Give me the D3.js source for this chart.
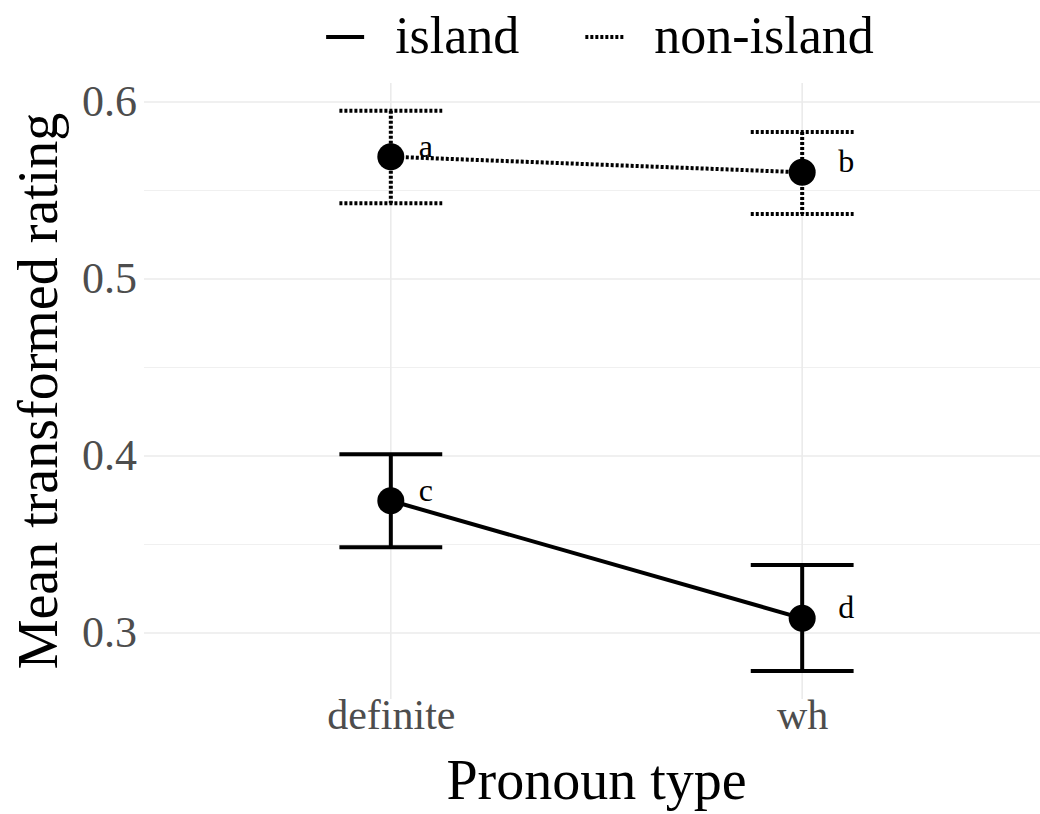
<!DOCTYPE html>
<html>
<head>
<meta charset="utf-8">
<script src="https://cdn.jsdelivr.net/npm/d3@7"></script>
<style>
  body { margin: 0; background: #fff; }
  svg { display: block; font-family: "Liberation Serif", "Times New Roman", serif; }
</style>
</head>
<body>
<svg id="chart"></svg>
<script>
// Data
const pronounTypes = ["definite", "wh"];
const conditions = ["island", "non-island"];
const islandMean = [0.3747, 0.3083];
const islandLower = [0.3485, 0.2785];
const islandUpper = [0.4010, 0.3384];
const nonIslandMean = [0.5691, 0.5603];
const nonIslandLower = [0.5428, 0.5367];
const nonIslandUpper = [0.5951, 0.5831];
const islandLabels = ["c", "d"];
const nonIslandLabels = ["a", "b"];
const yTicks = [0.3, 0.4, 0.5, 0.6];
const yMinorTicks = [0.35, 0.45, 0.55];

const width = 1040;
const height = 814;
const panel = { left: 144, right: 1049, top: 83, bottom: 699 };

const svg = d3.select("#chart")
    .attr("width", width)
    .attr("height", height);

// scales
const x = d3.scalePoint()
    .domain(pronounTypes)
    .range([panel.left, panel.right])
    .padding(0.6);

const y = d3.scaleLinear()
    .domain([0.3, 0.6])
    .range([633, 102]);

const series = [
    { name: conditions[0], mean: islandMean, lo: islandLower, hi: islandUpper, labels: islandLabels, dash: null },
    { name: conditions[1], mean: nonIslandMean, lo: nonIslandLower, hi: nonIslandUpper, labels: nonIslandLabels, dash: "3,2" }
];

// grid
const grid = svg.append("g");
grid.selectAll(".minor")
    .data(yMinorTicks)
    .enter().append("line")
    .attr("x1", panel.left).attr("x2", panel.right)
    .attr("y1", d => y(d)).attr("y2", d => y(d))
    .attr("stroke", "#f0f0f0").attr("stroke-width", 1.1);
grid.selectAll(".major")
    .data(yTicks)
    .enter().append("line")
    .attr("x1", panel.left).attr("x2", panel.right)
    .attr("y1", d => y(d)).attr("y2", d => y(d))
    .attr("stroke", "#ebebeb").attr("stroke-width", 1.6);
grid.selectAll(".vmajor")
    .data(pronounTypes)
    .enter().append("line")
    .attr("x1", d => x(d)).attr("x2", d => x(d))
    .attr("y1", panel.top).attr("y2", panel.bottom)
    .attr("stroke", "#ebebeb").attr("stroke-width", 1.6);

// axes (text only, like theme_minimal)
const yAxis = svg.append("g")
    .attr("transform", `translate(${panel.left},0)`)
    .call(d3.axisLeft(y).tickValues(yTicks).tickFormat(d3.format(".1f")).tickSize(0).tickPadding(7));
yAxis.select(".domain").remove();
yAxis.selectAll("text")
    .attr("font-family", "Liberation Serif, serif")
    .attr("font-size", 44)
    .attr("fill", "#4d4d4d")
    .attr("dy", "0.3em");

const xAxis = svg.append("g")
    .attr("transform", `translate(0,${panel.bottom})`)
    .call(d3.axisBottom(x).tickSize(0).tickPadding(0));
xAxis.select(".domain").remove();
xAxis.selectAll("text")
    .attr("font-family", "Liberation Serif, serif")
    .attr("font-size", 42)
    .attr("fill", "#4d4d4d")
    .attr("dy", null)
    .attr("y", 30);

// error bars, lines, points
const errW = x.step() * 0.25;
const stroke = 4;
const line = d3.line()
    .x(d => x(d.cat))
    .y(d => y(d.v));

series.forEach(s => {
    const rows = pronounTypes.map((c, i) => ({ cat: c, v: s.mean[i], lo: s.lo[i], hi: s.hi[i], label: s.labels[i] }));
    const g = svg.append("g");

    g.selectAll(".eb-v").data(rows).enter().append("line")
        .attr("x1", d => x(d.cat)).attr("x2", d => x(d.cat))
        .attr("y1", d => y(d.hi)).attr("y2", d => y(d.lo))
        .attr("stroke", "#000").attr("stroke-width", stroke)
        .attr("stroke-dasharray", s.dash);
    g.selectAll(".eb-top").data(rows).enter().append("line")
        .attr("x1", d => x(d.cat) - errW / 2).attr("x2", d => x(d.cat) + errW / 2)
        .attr("y1", d => y(d.hi)).attr("y2", d => y(d.hi))
        .attr("stroke", "#000").attr("stroke-width", stroke)
        .attr("stroke-dasharray", s.dash);
    g.selectAll(".eb-bot").data(rows).enter().append("line")
        .attr("x1", d => x(d.cat) - errW / 2).attr("x2", d => x(d.cat) + errW / 2)
        .attr("y1", d => y(d.lo)).attr("y2", d => y(d.lo))
        .attr("stroke", "#000").attr("stroke-width", stroke)
        .attr("stroke-dasharray", s.dash);

    g.append("path")
        .datum(rows)
        .attr("d", line)
        .attr("fill", "none")
        .attr("stroke", "#000").attr("stroke-width", stroke)
        .attr("stroke-dasharray", s.dash);

    g.selectAll("circle").data(rows).enter().append("circle")
        .attr("cx", d => x(d.cat)).attr("cy", d => y(d.v))
        .attr("r", 13.5)
        .attr("fill", "#000");

    const labelDx = { definite: 28, wh: 36 };
    g.selectAll(".lab").data(rows).enter().append("text")
        .attr("x", d => x(d.cat) + labelDx[d.cat])
        .attr("y", d => y(d.v))
        .attr("font-size", 32)
        .attr("fill", "#000")
        .text(d => d.label);
});

// axis titles
svg.append("text")
    .attr("x", (panel.left + panel.right) / 2)
    .attr("y", 799)
    .attr("text-anchor", "middle")
    .attr("font-size", 56)
    .attr("fill", "#000")
    .text("Pronoun type");

svg.append("text")
    .attr("transform", `translate(57,${(panel.top + panel.bottom) / 2}) rotate(-90)`)
    .attr("text-anchor", "middle")
    .attr("font-size", 56)
    .attr("fill", "#000")
    .text("Mean transformed rating");

// legend
const legend = svg.append("g");
let lx = 0;
series.forEach((s, i) => {
    const item = legend.append("g").attr("transform", `translate(${lx},0)`);
    item.append("line")
        .attr("x1", 0).attr("x2", 38)
        .attr("y1", 37).attr("y2", 37)
        .attr("stroke", "#000").attr("stroke-width", stroke)
        .attr("stroke-dasharray", s.dash);
    const t = item.append("text")
        .attr("x", 69).attr("y", 53)
        .attr("font-size", 52)
        .attr("fill", "#000")
        .text(s.name);
    lx += 69 + t.node().getComputedTextLength() + 66;
});
const lw = legend.node().getBBox().width;
legend.attr("transform", `translate(${600 - lw / 2},0)`);
</script>
</body>
</html>
